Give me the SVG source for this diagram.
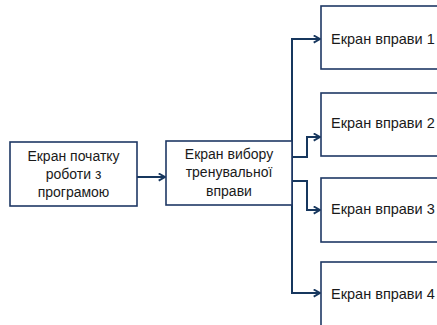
<svg xmlns="http://www.w3.org/2000/svg" width="437" height="325" viewBox="0 0 437 325">
<defs>
<style>
.box{fill:#fff;stroke:#1f3864;stroke-width:1.6}
.t{font-family:"Liberation Sans",Arial,sans-serif;font-size:14px;fill:#1a1a1a;text-anchor:middle}
.tl{font-family:"Liberation Sans",Arial,sans-serif;font-size:14.5px;fill:#1a1a1a}
.c{fill:none;stroke:#17375e;stroke-width:2}
</style>
<marker id="ah" viewBox="0 0 10 10" refX="9" refY="5" markerWidth="9" markerHeight="9" markerUnits="userSpaceOnUse" orient="auto">
<path d="M2,1 L9,5 L2,9" fill="none" stroke="#17375e" stroke-width="2"/>
</marker>
</defs>
<rect width="437" height="325" fill="#fff"/>
<g id="connectors">
<path class="c" d="M137,177 H165" marker-end="url(#ah)"/>
<path class="c" d="M292,173 V39 H320" marker-end="url(#ah)"/>
<path class="c" d="M292,157 H307 V137 H320" marker-end="url(#ah)"/>
<path class="c" d="M292,181 H307 V210 H320" marker-end="url(#ah)"/>
<path class="c" d="M292,173 V293 H320" marker-end="url(#ah)"/>
</g>
<g id="start">
<rect class="box" x="10" y="142" width="127" height="64"/>
<text class="t" x="73.5" y="161">Екран початку</text>
<text class="t" x="73.5" y="179">роботи з</text>
<text class="t" x="73.5" y="197">програмою</text>
</g>
<g id="choose">
<rect class="box" x="166" y="141" width="126" height="64"/>
<text class="t" x="229" y="159">Екран вибору</text>
<text class="t" x="229" y="177">тренувальної</text>
<text class="t" x="229" y="196">вправи</text>
</g>
<g id="ex1">
<rect class="box" x="321" y="6" width="126" height="63"/>
<text class="tl" x="331" y="44">Екран вправи 1</text>
</g>
<g id="ex2">
<rect class="box" x="321" y="93" width="126" height="63"/>
<text class="tl" x="331" y="128">Екран вправи 2</text>
</g>
<g id="ex3">
<rect class="box" x="321" y="178" width="126" height="64"/>
<text class="tl" x="331" y="214">Екран вправи 3</text>
</g>
<g id="ex4">
<rect class="box" x="321" y="262" width="126" height="70"/>
<text class="tl" x="331" y="299">Екран вправи 4</text>
</g>
</svg>
